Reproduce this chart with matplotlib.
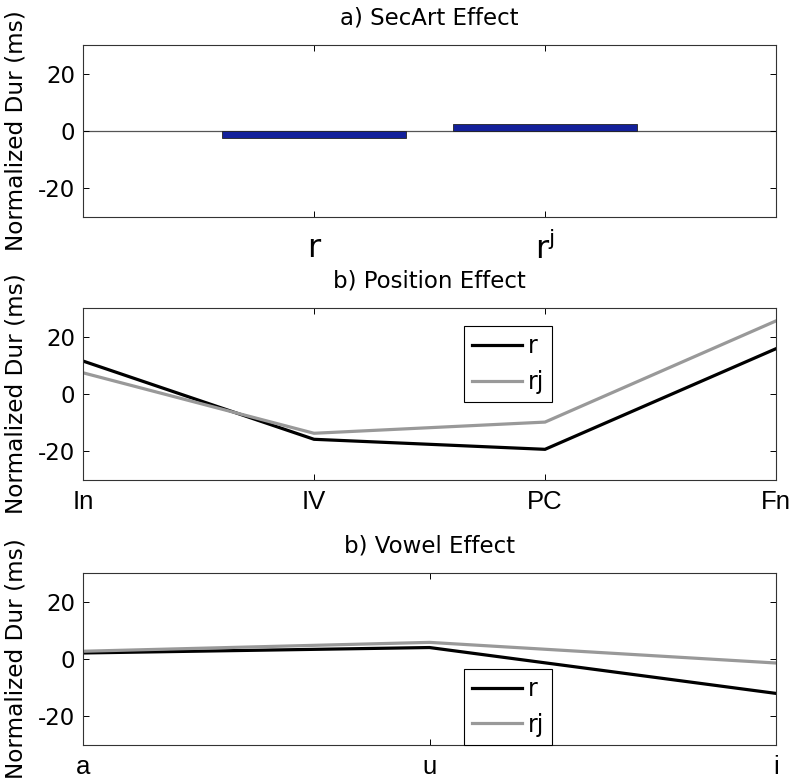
import matplotlib
matplotlib.use("Agg")
import matplotlib.pyplot as plt

plt.rcParams['font.family'] = ['DejaVu Sans']
plt.rcParams['mathtext.fontset'] = 'dejavusans'
plt.rcParams['axes.unicode_minus'] = False

# ---- data ----
secart_labels = ['r', r'r$^{\mathrm{j}}$']
secart_values = [-2.3, 2.3]

position_labels = ['In', 'IV', 'PC', 'Fn']
position_r = [11.5, -15.8, -19.3, 15.8]
position_rj = [7.4, -13.7, -9.8, 25.5]

vowel_labels = ['a', 'u', 'i']
vowel_r = [2.1, 4.0, -12.0]
vowel_rj = [2.7, 5.8, -1.4]

series_names = ['r', 'rj']
titles = ['a) SecArt Effect', 'b) Position Effect', 'b) Vowel Effect']
ylabel = 'Normalized Dur (ms)'
yticks = [-20, 0, 20]

FS_TITLE = 16.5
FS_YLAB = 16.7
FS_YTICK = 16.5
FS_XTICK = 18.5
FS_XTICK_A = 23
FS_LEG = 17
XFONT = ['Liberation Sans', 'DejaVu Sans']
BAR_COLOR = '#13209a'
GREY = '#999999'
LW = 2.3

fig = plt.figure(figsize=(7.95, 7.84), dpi=100)
L, W, H = 83 / 795, 693 / 795, 172 / 784
bottoms = [(784 - 217) / 784, (784 - 480) / 784, (784 - 745) / 784]
axes = [fig.add_axes([L, b, W, H]) for b in bottoms]


def style(ax, title, xpad):
    ax.set_ylim(-30, 30)
    ax.set_yticks(yticks)
    ax.tick_params(direction='in', length=4.5, width=0.7, top=True, right=True, colors='k')
    ax.tick_params(axis='x', pad=xpad)
    ax.tick_params(axis='y', pad=5.5, labelsize=FS_YTICK)
    for s in ax.spines.values():
        s.set_linewidth(0.8)
        s.set_color('#333333')
    ax.set_title(title, fontsize=FS_TITLE, pad=15)
    ax.set_ylabel(ylabel, fontsize=FS_YLAB)
    ax.yaxis.set_label_coords(-0.08, 0.5)


def add_legend(ax, loc, anchor):
    leg = ax.legend(loc=loc, bbox_to_anchor=anchor, borderaxespad=0,
                    fontsize=FS_LEG, handlelength=2.08, handletextpad=0.25,
                    labelspacing=0.5, borderpad=0.35, fancybox=False,
                    framealpha=1, edgecolor='k')
    leg.get_frame().set_linewidth(0.8)


# Panel a
ax = axes[0]
xa = list(range(1, len(secart_values) + 1))
ax.bar(xa, secart_values, width=0.8, color=BAR_COLOR, edgecolor='#222222', linewidth=0.6, zorder=2)
ax.axhline(0, color='#555555', lw=0.9, zorder=1)
ax.set_xlim(0, len(secart_values) + 1)
ax.set_xticks(xa)
ax.set_xticklabels(secart_labels, fontsize=FS_XTICK_A)
style(ax, titles[0], 11.5)

# Panel b
ax = axes[1]
xb = list(range(1, len(position_labels) + 1))
ax.plot(xb, position_r, color='k', lw=LW, label=series_names[0], solid_joinstyle='miter')
ax.plot(xb, position_rj, color=GREY, lw=LW, label=series_names[1], solid_joinstyle='miter')
ax.set_xlim(1, len(position_labels))
ax.set_xticks(xb)
ax.set_xticklabels(position_labels, fontsize=FS_XTICK, family=XFONT)
style(ax, titles[1], 7.5)
add_legend(ax, 'upper left', (0.55, 0.895))

# Panel c
ax = axes[2]
xc = list(range(1, len(vowel_labels) + 1))
ax.plot(xc, vowel_r, color='k', lw=LW, label=series_names[0], solid_joinstyle='miter')
ax.plot(xc, vowel_rj, color=GREY, lw=LW, label=series_names[1], solid_joinstyle='miter')
ax.set_xlim(1, len(vowel_labels))
ax.set_xticks(xc)
ax.set_xticklabels(vowel_labels, fontsize=FS_XTICK, family=XFONT)
style(ax, titles[2], 7.5)
add_legend(ax, 'lower left', (0.55, 0.0))

fig.savefig('out.png', dpi=100)
